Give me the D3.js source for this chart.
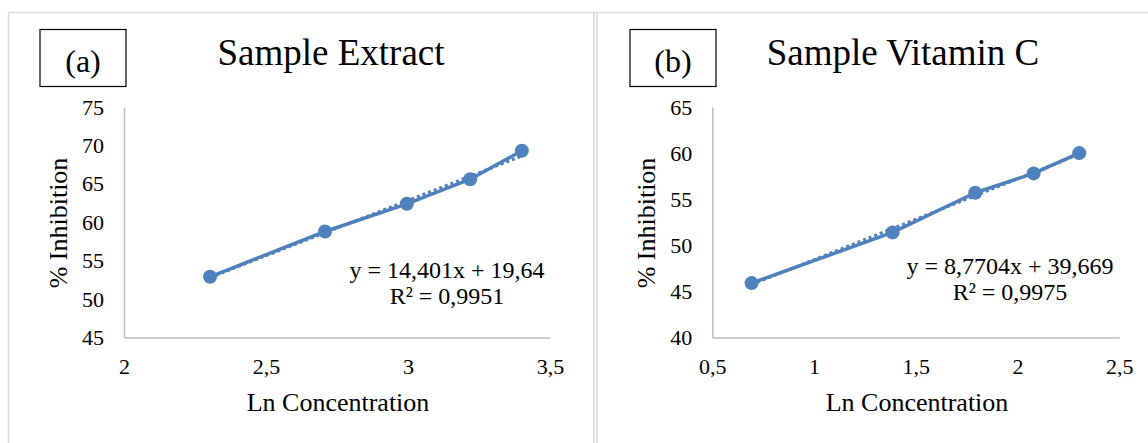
<!DOCTYPE html>
<html>
<head>
<meta charset="utf-8">
<script src="https://cdn.jsdelivr.net/npm/d3@7"></script>
<style>
  html, body { margin: 0; padding: 0; background: #ffffff; }
  svg { display: block; }
  svg text { font-family: "Liberation Serif", "Times New Roman", serif !important; fill: #000; }
</style>
</head>
<body>
<svg id="chart" width="1148" height="443"></svg>
<script>
// ---------- data ----------
const xA = [2.303, 2.708, 2.996, 3.219, 3.401];
const yA = [52.9, 58.8, 62.4, 65.6, 69.3];
const xB = [0.693, 1.386, 1.792, 2.079, 2.303];
const yB = [45.9, 51.4, 55.7, 57.8, 60.0];

const trendA = [14.401, 19.64];   // slope, intercept
const trendB = [8.7704, 39.669];

const eqA = ["y = 14,401x + 19,64", "R² = 0,9951"];
const eqB = ["y = 8,7704x + 39,669", "R² = 0,9975"];

const xTicksA = [2, 2.5, 3, 3.5];
const yTicksA = [45, 50, 55, 60, 65, 70, 75];
const xTicksB = [0.5, 1, 1.5, 2, 2.5];
const yTicksB = [40, 45, 50, 55, 60, 65];

const titles = ["Sample Extract", "Sample Vitamin C"];
const panelLabels = ["(a)", "(b)"];
const xTitle = "Ln Concentration";
const yTitle = "% Inhibition";

// ---------- drawing ----------
const FONT = '"Liberation Serif", "Times New Roman", serif';
const svg = d3.select("#chart");
const blue = "#4f81bd";
const axisGray = "#bfbfbf";
const borderGray = "#d9d9d9";
const locale = d3.formatLocale({decimal: ",", thousands: ".", grouping: [3], currency: ["", ""]});
const fmt = v => locale.format("~g")(v);

// outer chart frames
svg.append("line").attr("x1", 8).attr("x2", 1148).attr("y1", 12.5).attr("y2", 12.5)
  .attr("stroke", borderGray).attr("stroke-width", 1.5);
[8.5, 594, 597].forEach(x => {
  svg.append("line").attr("x1", x).attr("x2", x).attr("y1", 12).attr("y2", 443)
    .attr("stroke", borderGray).attr("stroke-width", 1.5);
});

const panels = [
  {x: xA, y: yA, trend: trendA, eq: eqA, xt: xTicksA, yt: yTicksA, title: titles[0], lab: panelLabels[0],
   left: 124, right: 550, top: 107, bottom: 337.5,
   titleX: 331, boxX: 40, boxW: 86, eqX: 447, eqY: 277.5, xTitleX: 338, yTitleX: 66.5},
  {x: xB, y: yB, trend: trendB, eq: eqB, xt: xTicksB, yt: yTicksB, title: titles[1], lab: panelLabels[1],
   left: 712.3, right: 1119.3, top: 107, bottom: 337.5,
   titleX: 903, boxX: 630, boxW: 86, eqX: 1010, eqY: 273.5, xTitleX: 917, yTitleX: 655}
];

function txt(sel) { return sel.style("font-family", FONT).attr("fill", "#000"); }

panels.forEach(p => {
  const xs = d3.scaleLinear().domain([p.xt[0], p.xt[p.xt.length - 1]]).range([p.left, p.right]);
  const ys = d3.scaleLinear().domain([p.yt[0], p.yt[p.yt.length - 1]]).range([p.bottom, p.top]);

  // panel label box
  svg.append("rect").attr("x", p.boxX).attr("y", 29.5).attr("width", p.boxW).attr("height", 57)
    .attr("fill", "#fff").attr("stroke", "#000").attr("stroke-width", 1.2);
  txt(svg.append("text")).attr("x", p.boxX + p.boxW / 2).attr("y", 72).attr("text-anchor", "middle")
    .attr("font-size", 32).text(p.lab);

  // title
  txt(svg.append("text")).attr("x", p.titleX).attr("y", 65).attr("text-anchor", "middle")
    .attr("font-size", 37).text(p.title);

  // axes
  const gy = svg.append("g").attr("transform", `translate(${p.left},0)`)
    .call(d3.axisLeft(ys).tickValues(p.yt).tickSize(0).tickPadding(20).tickFormat(fmt));
  gy.attr("font-family", null).attr("font-size", null);
  gy.select(".domain").attr("stroke", axisGray).attr("stroke-width", 1.5);
  txt(gy.selectAll("text")).attr("font-size", 22);

  const gx = svg.append("g").attr("transform", `translate(0,${p.bottom})`)
    .call(d3.axisBottom(xs).tickValues(p.xt).tickSize(0).tickPadding(21).tickFormat(fmt));
  gx.attr("font-family", null).attr("font-size", null);
  gx.select(".domain").attr("stroke", axisGray).attr("stroke-width", 1.5);
  txt(gx.selectAll("text")).attr("font-size", 22);

  // axis titles
  txt(svg.append("text")).attr("x", p.xTitleX).attr("y", 411).attr("text-anchor", "middle")
    .attr("font-size", 26).text(xTitle);
  txt(svg.append("text")).attr("transform", `translate(${p.yTitleX},223) rotate(-90)`)
    .attr("text-anchor", "middle").attr("font-size", 26).text(yTitle);

  // trendline (dotted)
  const x0 = d3.min(p.x), x1 = d3.max(p.x);
  const tl = [x0, x1].map(v => [v, p.trend[0] * v + p.trend[1]]);
  svg.append("path").attr("d", d3.line().x(d => xs(d[0])).y(d => ys(d[1]))(tl))
    .attr("fill", "none").attr("stroke", blue).attr("stroke-width", 3).attr("stroke-dasharray", "3,3");

  // series line
  const pts = p.x.map((v, i) => [v, p.y[i]]);
  svg.append("path").attr("d", d3.line().x(d => xs(d[0])).y(d => ys(d[1]))(pts))
    .attr("fill", "none").attr("stroke", blue).attr("stroke-width", 3.5).attr("stroke-linejoin", "round");
  svg.append("g").selectAll("circle").data(pts).join("circle")
    .attr("cx", d => xs(d[0])).attr("cy", d => ys(d[1])).attr("r", 7).attr("fill", blue);

  // equation label
  txt(svg.append("text")).attr("x", p.eqX).attr("y", p.eqY).attr("text-anchor", "middle")
    .attr("font-size", 24).text(p.eq[0]);
  txt(svg.append("text")).attr("x", p.eqX).attr("y", p.eqY + 26.5).attr("text-anchor", "middle")
    .attr("font-size", 24).text(p.eq[1]);
});
</script>
</body>
</html>
